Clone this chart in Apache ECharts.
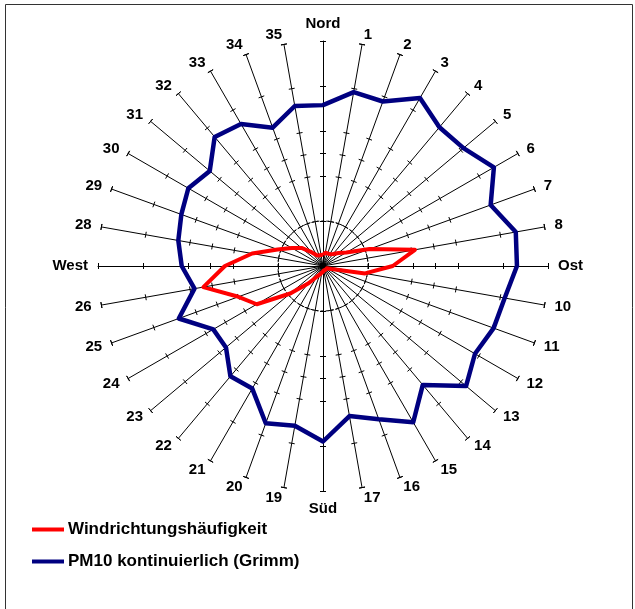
<!DOCTYPE html>
<html><head><meta charset="utf-8">
<script src="https://cdn.jsdelivr.net/npm/echarts@6/dist/echarts.min.js"></script>
<style>html,body{margin:0;padding:0;background:#fff}#c{width:635px;height:609px}</style>
</head><body><div id="c"></div>
<script>
// Wind direction sectors (clockwise from north, 10° steps)
const directions = ['Nord','1','2','3','4','5','6','7','8','Ost','10','11','12','13','14','15','16','17',
  'Süd','19','20','21','22','23','24','25','26','West','28','29','30','31','32','33','34','35'];
const windFrequency = [0.5,0.6,0.6,0.6,0.7,0.9,1.2,2.2,4.15,3.1,1.9,0.4,0.2,0.2,0.2,0.2,0.2,0.2,
  0.25,0.3,0.4,0.55,1.0,1.9,3.4,4.0,5.4,4.36,3.2,2.15,1.6,1.25,0.8,0.55,0.5,0.5];
const pm10 = [7.15,7.85,7.78,8.62,8.05,8.15,8.77,7.93,8.7,8.62,8.2,8.07,7.8,8.3,6.9,8.02,7.25,6.77,
  7.8,7.21,7.44,6.29,6.4,5.63,5.63,6.82,5.8,6.28,6.53,6.7,6.91,6.57,7.49,7.29,6.54,7.22];
const seriesNames = ['Windrichtungshäufigkeit','PM10 kontinuierlich (Grimm)'];
const axisMin = 0, axisMax = 10;

// ECharts radar lays indicators out counter-clockwise: reorder so they run clockwise
const order = directions.map((d, i) => (directions.length - i) % directions.length);
const reorder = arr => order.map(i => arr[i]);
const indicator = order.map(i => ({ name: directions[i], min: axisMin, max: axisMax }));

const clear = 'rgba(0,0,0,0)';
const base = { center: [323, 266], radius: 225, startAngle: 90, shape: 'circle', indicator: indicator,
  splitArea: { show: false } };
const tickStyle = { color: '#000', width: 1 };
const radars = [
  Object.assign({}, base, { splitNumber: 5,
    axisLine: { show: true, lineStyle: { color: '#000', width: 1 } },
    axisTick: { show: true, length: 3, lineStyle: tickStyle },
    splitLine: { show: true, lineStyle: { color: [clear, '#000', clear, clear, clear, clear], width: 1, type: [3, 2] } },
    axisName: { show: true, color: '#000', fontSize: 15, fontWeight: 'bold', fontFamily: 'Liberation Sans' },
    axisNameGap: 10 }),
  Object.assign({}, base, { splitNumber: 5, axisLine: { show: false },
    axisTick: { show: true, length: -3, lineStyle: tickStyle }, splitLine: { show: false }, axisName: { show: false } }),
  Object.assign({}, base, { splitNumber: 2, axisLine: { show: false },
    axisTick: { show: true, length: 3, lineStyle: tickStyle }, splitLine: { show: false }, axisName: { show: false } }),
  Object.assign({}, base, { splitNumber: 2, axisLine: { show: false },
    axisTick: { show: true, length: -3, lineStyle: tickStyle }, splitLine: { show: false }, axisName: { show: false } })
];

const chart = echarts.init(document.getElementById('c'), null, { renderer: 'canvas' });
chart.setOption({
  animation: false,
  backgroundColor: '#fff',
  radar: radars,
  legend: {
    orient: 'vertical', left: 27, top: 516, padding: 5, itemWidth: 32, itemHeight: 4, itemGap: 15, icon: 'rect',
    data: seriesNames,
    textStyle: { fontSize: 17, fontWeight: 'bold', color: '#000', fontFamily: 'Liberation Sans', padding: [0, 0, 0, -1] }
  },
  graphic: [{ type: 'rect', shape: { x: 5.5, y: 4.5, width: 627, height: 620 },
    style: { fill: 'none', stroke: '#333', lineWidth: 1 }, silent: true, z: -1 }],
  series: [{
    type: 'radar', radarIndex: 0, symbol: 'none',
    data: [
      { name: seriesNames[1], value: reorder(pm10),
        lineStyle: { color: '#000080', width: 4.5 }, itemStyle: { color: '#000080' } },
      { name: seriesNames[0], value: reorder(windFrequency),
        lineStyle: { color: '#ff0000', width: 4 }, itemStyle: { color: '#ff0000' } }
    ]
  }]
});
</script></body></html>
